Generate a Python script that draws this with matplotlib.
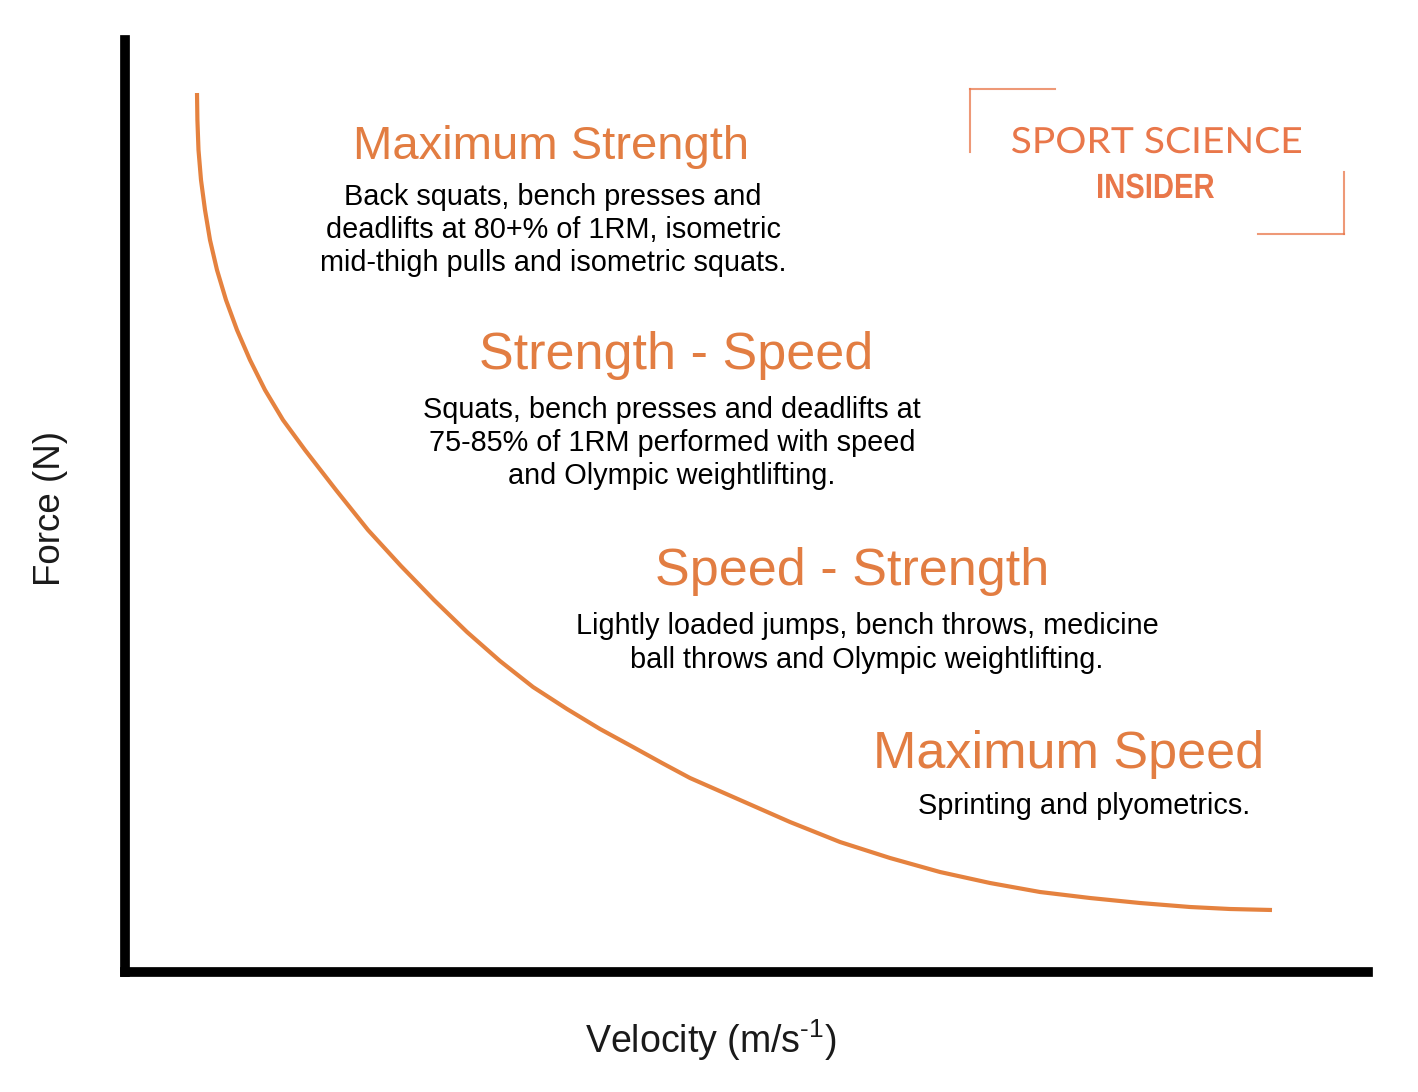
import numpy as np
import matplotlib.pyplot as plt
from matplotlib.textpath import TextPath
from matplotlib.patches import PathPatch
from matplotlib.font_manager import FontProperties
from matplotlib.transforms import Affine2D

# force-velocity curve (arbitrary units, origin at the axes corner)
velocity = [72, 72.4, 73.5, 76, 80, 85, 92, 101, 112, 125, 140, 158, 180, 211, 243, 276, 309,
            342, 375, 408, 442, 475, 508, 537, 565, 615, 665, 715, 765, 815, 865, 915, 965,
            1015, 1065, 1105, 1147]
force = [879, 852, 822, 792, 762, 732, 702, 672, 642, 612, 582, 552, 522, 482, 442, 406, 372,
         340, 311, 285, 263, 243, 225, 209, 194, 172, 150, 130, 114, 100, 89, 80, 74,
         69, 65, 63, 62]

titles = ['Maximum Strength', 'Strength - Speed', 'Speed - Strength', 'Maximum Speed']
descriptions = [
    ['Back squats, bench presses and', 'deadlifts at 80+% of 1RM, isometric',
     'mid-thigh pulls and isometric squats.'],
    ['Squats, bench presses and deadlifts at', '75-85% of 1RM performed with speed',
     'and Olympic weightlifting.'],
    ['Lightly loaded jumps, bench throws, medicine', 'ball throws and Olympic weightlifting.'],
    ['Sprinting and plyometrics.'],
]

W, H = 1418, 1092
ORANGE = '#E27D42'
LOGO = '#E9774A'

plt.rcParams['font.family'] = ['Liberation Sans', 'DejaVu Sans']
plt.rcParams['mathtext.fontset'] = 'custom'
plt.rcParams['mathtext.rm'] = 'Liberation Sans'
plt.rcParams['mathtext.it'] = 'Liberation Sans'


def fx(px):
    return px / W


def fy(py):
    return 1 - py / H


fig = plt.figure(figsize=(W / 100, H / 100), dpi=100)
ax = fig.add_axes([fx(125), fy(972), (1368 - 125) / W, (972 - 40) / H])
ax.plot(velocity, force, color='#E5823F', lw=3.0, solid_capstyle='butt', solid_joinstyle='round')
ax.set_xlim(0, 1368 - 125)
ax.set_ylim(0, 972 - 40)
ax.set_xticks([])
ax.set_yticks([])
for s in ['top', 'right']:
    ax.spines[s].set_visible(False)
for s in ['left', 'bottom']:
    ax.spines[s].set_linewidth(7)
    ax.spines[s].set_color('black')
    ax.spines[s].set_capstyle('projecting')

# axis labels
fig.text(fx(50), fy(508), 'Force (N)', rotation=90, ha='center', va='center',
         fontsize=26.5, color='#1a1a1a')
fig.text(fx(711), fy(1040), r'Velocity (m/s$^{\text{-1}}$)', ha='center', va='center',
         fontsize=27, color='#1a1a1a')

# zone titles and descriptions
title_pos = [(551, 159, 34), (676, 369, 37.5), (852, 585, 37.5), (1069, 768, 37.5)]
desc_pos = [(553, [205, 238, 271]), (672, [418, 451, 484]), (867, [634, 668]), (1084, [814])]
for t, (tx, ty, ts), lines, (dx, dys) in zip(titles, title_pos, descriptions, desc_pos):
    fig.text(fx(tx), fy(ty), t, ha='center', va='baseline', fontsize=ts, color=ORANGE)
    for line, dy in zip(lines, dys):
        fig.text(fx(dx), fy(dy), line, ha='center', va='baseline', fontsize=20.8, color='black')


# logo, drawn in pixel units
def logo_text(s, cx, base_y, size, width, prop):
    tp = TextPath((0, 0), s, size=size, prop=prop)
    bb = tp.get_extents()
    sx = width / bb.width
    tr = Affine2D().scale(sx, 1).translate(cx - width / 2 - bb.x0 * sx, H - base_y)
    fig.add_artist(PathPatch(tp, transform=tr, facecolor=LOGO, lw=0))


for xs, ys in [([970, 1055], [89, 89]), ([970, 970], [89, 152]),
               ([1344, 1344], [172, 234]), ([1258, 1344], [234, 234])]:
    fig.add_artist(plt.Line2D([fx(v) for v in xs], [fy(v) for v in ys],
                              color=LOGO, lw=1.5, alpha=0.75))
logo_text('SPORT SCIENCE', 1156.5, 153, 36, 289, FontProperties(family='Lato'))
logo_text('INSIDER', 1156, 198, 35, 116, FontProperties(family='Liberation Sans', weight='bold'))

fig.savefig('out.png', dpi=100, facecolor='white')
